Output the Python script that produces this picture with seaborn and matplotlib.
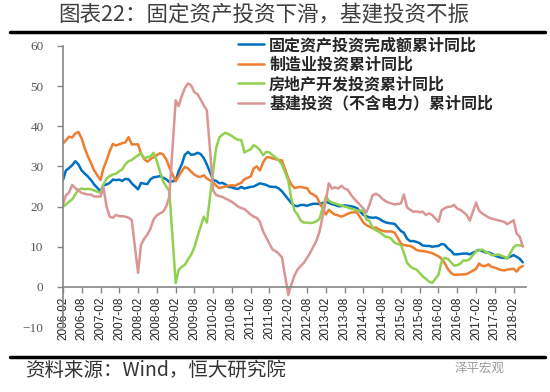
import matplotlib
matplotlib.use('Agg')
import matplotlib.pyplot as plt
import matplotlib.dates as mdates
from matplotlib.lines import Line2D
import seaborn as sns
import pandas as pd

# meses com dado (sem janeiro, acumulado começa em fev)
anos = list(range(2006, 2019))
meses = list(range(2, 13))
meses_2018 = [2, 3, 4, 5]

fai = [26.6, 29.0, 29.6, 30.3, 31.3, 30.5, 29.0, 28.2, 27.5, 26.6, 25.5,
       23.8, 25.3, 25.5, 25.9, 26.7, 26.6, 26.7, 26.4, 26.9, 26.8, 25.8,
       24.3, 25.9, 25.7, 25.6, 26.8, 27.3, 27.4, 27.6, 27.2, 26.8, 26.1,
       26.5, 28.8, 30.5, 32.9, 33.6, 32.9, 33.0, 33.4, 33.1, 32.1, 30.5,
       26.6, 26.4, 25.8, 25.9, 25.5, 24.9, 24.8, 24.5, 24.4, 24.9, 24.5,
       24.9, 25.0, 25.4, 25.8, 25.6, 25.4, 25.0, 24.9, 24.9, 24.5, 23.8,
       21.8, 20.9, 20.2, 20.1, 20.4, 20.4, 20.2, 20.5, 20.7, 20.7, 20.6,
       21.2, 20.9, 20.6, 20.4, 20.1, 20.1, 20.3, 20.2, 20.1, 19.9, 19.6,
       17.9, 17.6, 17.3, 17.2, 17.3, 17.0, 16.5, 16.1, 15.9, 15.8, 15.7,
       13.9, 13.5, 12.0, 11.4, 11.4, 11.2, 10.9, 10.3, 10.2, 10.2, 10.0,
       10.2, 10.7, 10.5, 9.6, 9.0, 8.1, 8.1, 8.2, 8.3, 8.3, 8.1,
       8.9, 9.2, 8.9, 8.6, 8.6, 8.3, 7.8, 7.5, 7.3, 7.2, 7.2,
       7.9, 7.5, 7.0, 6.1]

manufatura = [35.7, 36.5, 37.4, 37.2, 38.2, 38.6, 37.0, 34.5, 32.5, 30.8, 29.0,
              26.6, 29.5, 31.5, 33.8, 35.6, 35.2, 35.5, 35.8, 36.0, 37.3, 35.5,
              35.5, 33.2, 31.8, 31.2, 31.8, 32.3, 32.8, 33.3, 33.0, 31.8, 29.8,
              26.3, 27.5, 28.8, 29.9, 29.5, 28.7, 28.0, 27.5, 27.4, 27.8, 27.0,
              26.0, 25.2, 24.6, 24.8, 25.0, 25.2, 25.3, 25.2, 25.6, 25.9, 26.8,
              27.5, 29.5, 30.0, 29.0, 31.0, 32.2, 32.3, 32.0, 31.8, 31.6, 31.5,
              27.0, 25.5, 24.6, 24.8, 24.9, 24.7, 24.6, 23.4, 23.0, 22.5, 21.0,
              18.0, 19.2, 18.5, 18.0, 17.8, 17.5, 17.8, 18.2, 18.5, 18.6, 18.5,
              16.0, 15.4, 15.0, 14.6, 14.8, 14.3, 14.0, 13.8, 13.8, 13.8, 13.5,
              10.8, 10.4, 10.3, 10.2, 9.8, 9.2, 9.0, 8.9, 8.8, 8.6, 8.4,
              7.6, 7.0, 5.9, 4.5, 3.5, 3.0, 3.0, 3.1, 3.1, 3.2, 3.6,
              4.5, 5.8, 5.2, 5.2, 5.6, 5.0, 4.8, 4.5, 4.2, 4.1, 4.3,
              4.5, 3.8, 4.8, 5.2]

imobiliario = [20.0, 20.5, 21.2, 21.8, 23.0, 24.2, 24.5, 24.3, 24.4, 24.3, 24.0,
               23.4, 25.5, 27.0, 27.6, 28.0, 28.2, 28.8, 29.3, 30.6, 31.3, 31.6,
               32.8, 33.3, 32.0, 32.3, 32.5, 33.4, 31.4, 28.7, 26.3, 25.0, 23.8,
               0.9, 4.2, 5.0, 5.5, 6.8, 8.0, 9.8, 12.5, 15.0, 17.5, 16.0,
               29.0, 34.5, 37.2, 37.9, 38.4, 38.0, 37.6, 37.0, 36.6, 36.6, 33.5,
               34.3, 35.3, 34.8, 34.1, 32.8, 33.6, 33.5, 32.8, 32.2, 31.5, 30.5,
               26.5, 22.0, 19.0, 18.0, 16.5, 16.0, 16.0, 15.9, 16.0, 16.3, 17.0,
               22.5, 21.5, 21.0, 20.8, 20.5, 20.3, 20.0, 19.8, 19.5, 19.3, 19.0,
               19.0, 16.8, 16.4, 14.7, 14.1, 13.7, 13.2, 12.5, 12.4, 11.9, 11.0,
               10.4, 8.5, 6.0, 5.1, 4.6, 4.3, 3.5, 2.6, 2.0, 1.3, 1.0,
               3.0, 6.2, 7.2, 7.0, 6.1, 5.3, 5.4, 5.8, 6.6, 6.5, 6.9,
               8.9, 9.1, 9.3, 8.8, 8.5, 7.9, 7.9, 8.1, 7.8, 7.5, 7.0,
               9.9, 10.4, 10.3, 10.2]

infra = [20.5, 22.8, 23.5, 25.4, 24.6, 24.0, 23.4, 23.2, 23.0, 23.0, 22.5,
         22.5, 24.8, 20.0, 17.5, 17.2, 17.9, 17.6, 17.6, 17.5, 17.2, 16.7,
         3.5, 10.5, 12.0, 13.0, 14.5, 16.8, 17.8, 18.3, 18.7, 20.0, 22.5,
         46.5, 45.0, 47.5, 49.5, 50.7, 50.2, 48.5, 48.0, 46.7, 45.2, 44.0,
         24.0, 22.9, 22.6, 22.4, 22.0, 21.6, 21.2, 20.6, 20.0, 19.6, 19.4,
         18.0, 17.5, 17.2, 16.2, 13.8, 12.3, 10.8, 9.3, 8.9, 8.2, 7.4,
         -2.0, 0.5, 2.8, 4.3, 5.2, 6.0, 7.2, 8.5, 10.0, 11.5, 13.8,
         21.5, 25.8, 24.5, 24.8, 24.5, 25.2, 24.5, 24.2, 23.0, 22.0, 21.2,
         19.5, 18.5, 20.5, 22.8, 23.2, 22.8, 22.0, 21.4, 21.0, 20.8, 20.5,
         20.8, 23.0, 19.8, 19.2, 18.7, 18.8, 18.6, 18.7, 17.9, 18.3, 17.9,
         16.2, 19.0, 19.6, 19.9, 20.0, 20.4, 19.5, 19.2, 18.6, 17.9, 16.5,
         21.0, 19.0, 18.3, 17.8, 17.3, 17.0, 16.8, 16.6, 16.4, 16.2, 15.6,
         16.6, 13.3, 12.5, 10.0]

nomes = ['固定资产投资完成额累计同比', '制造业投资累计同比',
         '房地产开发投资累计同比', '基建投资（不含电力）累计同比']
cores = ['#0070C0', '#ED7D31', '#92D050', '#D99694']

datas = []
for ano in anos:
    for m in (meses_2018 if ano == 2018 else meses):
        datas.append(pd.Timestamp(ano, m, 1))

df = pd.DataFrame({'data': datas, nomes[0]: fai, nomes[1]: manufatura,
                   nomes[2]: imobiliario, nomes[3]: infra})
df_long = df.melt(id_vars='data', var_name='serie', value_name='valor')

sns.set_theme(style='white')
plt.rcParams['font.family'] = ['Noto Sans CJK SC', 'DejaVu Sans']

fig = plt.figure(figsize=(5.5, 3.92), dpi=100)
ax = fig.add_axes([63/550, 1-327/392, (526-63)/550, (327-46)/392])

sns.lineplot(data=df_long, x='data', y='valor', hue='serie', hue_order=nomes,
             palette=cores, linewidth=1.8, ax=ax, sort=True)

ax.set_xlim(pd.Timestamp(2006, 2, 1), pd.Timestamp(2018, 6, 1))
ax.set_ylim(-10, 60)
ax.set_yticks(range(-10, 61, 10))
ticks_x = pd.date_range('2006-02-01', '2018-02-01', freq='6MS')
ax.set_xticks(ticks_x)
ax.xaxis.set_major_formatter(mdates.DateFormatter('%Y-%m'))
ax.set_xlabel('')
ax.set_ylabel('')

for s in ['top', 'right']:
    ax.spines[s].set_visible(False)
ax.spines['bottom'].set_position(('data', 0))
for s in ['bottom', 'left']:
    ax.spines[s].set_color('#868686')
    ax.spines[s].set_linewidth(1.2)

ax.tick_params(axis='x', direction='out', length=4, width=1, color='#868686',
               pad=3, labelrotation=90, bottom=True)
ax.tick_params(axis='y', direction='out', length=4, width=1, color='#868686',
               pad=10, left=True)
for lb in ax.get_xticklabels():
    lb.set_fontfamily('Liberation Sans')
    lb.set_fontsize(8.5)
    lb.set_color('#262626')
for lb in ax.get_yticklabels():
    lb.set_fontfamily('Liberation Serif')
    lb.set_fontsize(9.5)
    lb.set_color('#595959')

h, l = ax.get_legend_handles_labels()
ax.legend(h, l, loc='upper left', bbox_to_anchor=(238/550, 1-37/392),
          bbox_transform=fig.transFigure, frameon=False, handlelength=1.6,
          handletextpad=0.35, labelspacing=0.22, borderpad=0, borderaxespad=0,
          prop={'family': ['Noto Sans CJK SC', 'DejaVu Sans'], 'size': 11.5,
                'weight': 'bold'})

# título e rodapé
fig.text(263.5/550, 1-14/392, '图表22：固定资产投资下滑，基建投资不振',
         ha='center', va='center', fontsize=15.5, color='#3f3f3f')
fig.add_artist(Line2D([10/550, 545/550], [1-31.5/392]*2, lw=2.5, color='black'))
fig.add_artist(Line2D([10/550, 545/550], [1-357/392]*2, lw=2.5, color='black'))
fig.text(25/550, 1-370/392, '资料来源：Wind，恒大研究院', ha='left', va='center',
         fontsize=14, color='#333333')
fig.text(455/550, 1-368/392, '泽平宏观', ha='left', va='center',
         fontsize=9, color='#9a9a9a')

fig.savefig('out.png', dpi=100)
